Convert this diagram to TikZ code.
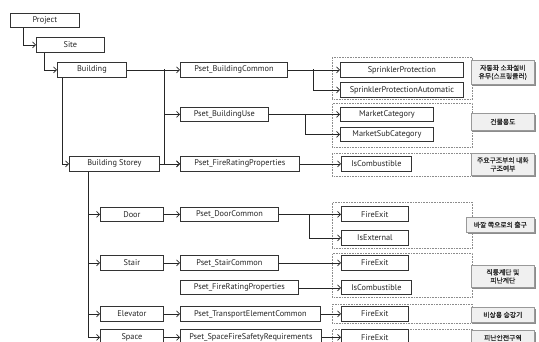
\documentclass[tikz,border=0pt]{standalone}
\usepackage{fontspec}
\setmainfont{PT Sans}
\newfontfamily\kr[FakeBold=0.6]{Noto Sans CJK KR}
\usetikzlibrary{arrows.meta,shadows}
\begin{document}
\begin{tikzpicture}[x=1pt,y=-1pt,
  box/.style={draw=black!80, line width=0.8pt, fill=white, anchor=north west, inner sep=0pt,
     font=\fontsize{8.3}{9}\selectfont, text=black!85},
  grp/.style={draw=black!45, densely dotted, line width=0.6pt, anchor=north west, inner sep=0pt},
  note/.style={draw=black!40, line width=0.7pt, fill=black!6, anchor=north west, inner sep=0pt,
     align=center, font=\kr\fontsize{6.8}{8.2}\selectfont, text=black!85,
     drop shadow={shadow xshift=1.5pt, shadow yshift=-1.5pt, fill=black!45, opacity=1}},
  arr/.style={draw=black!85, line width=0.7pt, -{Straight Barb[length=3pt,width=6pt]}}
]
\useasboundingbox (0,0) rectangle (539,342);
\clip (0,0) rectangle (539,342);

% groups
\node[grp, minimum width=140pt, minimum height=42pt] (g1) at (332,57) {};
\node[grp, minimum width=140pt, minimum height=44pt] (g2) at (332,103) {};
\node[grp, minimum width=140pt, minimum height=23pt] (g3) at (332,153) {};
\node[grp, minimum width=140pt, minimum height=46pt] (g4) at (332,202) {};
\node[grp, minimum width=140pt, minimum height=44pt] (g5) at (332,253) {};
\node[grp, minimum width=140pt, minimum height=19pt] (g6) at (332,304) {};
\node[grp, minimum width=140pt, minimum height=30pt] (g7) at (332,329) {};

% hierarchy
\node[box, minimum width=69pt, minimum height=14pt] (proj) at (10,13) {Project};
\node[box, minimum width=68pt, minimum height=15pt] (site) at (36,37) {Site};
\node[box, minimum width=69pt, minimum height=15pt] (bldg) at (57,62) {Building};
\node[box, minimum width=90pt, minimum height=15pt] (bs) at (69,156) {Building Storey};
\node[box, minimum width=63pt, minimum height=14pt] (door) at (100,207) {Door};
\node[box, minimum width=63pt, minimum height=15pt] (stair) at (100,255) {Stair};
\node[box, minimum width=63pt, minimum height=15pt] (elev) at (100,306) {Elevator};
\node[box, minimum width=63pt, minimum height=16pt] (space) at (100,329) {Space};

% psets
\node[box, minimum width=107pt, minimum height=15pt] (pbc) at (180,62) {Pset\_BuildingCommon};
\node[box, minimum width=88pt, minimum height=14pt] (pbu) at (180,107) {Pset\_BuildingUse};
\node[box, minimum width=119pt, minimum height=15pt] (pfr1) at (180,156) {Pset\_FireRatingProperties};
\node[box, minimum width=98pt, minimum height=14pt] (pdc) at (180,207) {Pset\_DoorCommon};
\node[box, minimum width=98pt, minimum height=15pt] (psc) at (180,255) {Pset\_StairCommon};
\node[box, minimum width=118pt, minimum height=14pt] (pfr2) at (180,280.5) {Pset\_FireRatingProperties};
\node[box, minimum width=140pt, minimum height=15pt] (ptec) at (180,306) {Pset\_TransportElementCommon};
\node[box, minimum width=141pt, minimum height=16pt] (psfsr) at (180,329) {Pset\_SpaceFireSafetyRequirements};

% properties
\node[box, minimum width=123pt, minimum height=15pt] (sp) at (340,62) {SprinklerProtection};
\node[box, minimum width=123pt, minimum height=15pt] (spa) at (340,82) {SprinklerProtectionAutomatic};
\node[box, minimum width=93pt, minimum height=14pt] (mc) at (340,107) {MarketCategory};
\node[box, minimum width=93pt, minimum height=14pt] (msc) at (340,127) {MarketSubCategory};
\node[box, minimum width=70pt, minimum height=15pt] (ic1) at (341,156) {IsCombustible};
\node[box, minimum width=67pt, minimum height=15pt] (fe1) at (341,206.5) {FireExit};
\node[box, minimum width=67pt, minimum height=15pt] (ie) at (341,230) {IsExternal};
\node[box, minimum width=67pt, minimum height=15pt] (fe2) at (341,255) {FireExit};
\node[box, minimum width=70pt, minimum height=14pt] (ic2) at (341,280.5) {IsCombustible};
\node[box, minimum width=67pt, minimum height=15pt] (fe3) at (341,306) {FireExit};
\node[box, minimum width=67pt, minimum height=16pt] (fe4) at (341,329) {FireExit};

% notes
\node[note, minimum width=63pt, minimum height=24pt] (n1) at (471,60) {자동화 소화설비\\유무(스프링클러)};
\node[note, minimum width=63pt, minimum height=17pt] (n2) at (471,113) {건물용도};
\node[note, minimum width=63pt, minimum height=22pt] (n3) at (471,153) {주요구조부의 내화\\구조여부};
\node[note, minimum width=68pt, minimum height=15pt] (n4) at (466,217) {바깥 쪽으로의 출구};
\node[note, minimum width=63pt, minimum height=22pt] (n5) at (471,265) {직통계단 및\\피난계단};
\node[note, minimum width=63pt, minimum height=15pt] (n6) at (471,307) {비상용 승강기};
\node[note, minimum width=63pt, minimum height=15pt] (n7) at (471,330) {피난안전구역};

% hierarchy connectors
\draw[arr] ([xshift=13pt]proj.south west) |- (site.west);
\draw[arr] ([xshift=8pt]site.south west) |- (bldg.west);
\draw[arr] ([xshift=5pt]bldg.south west) |- (bs.west);
\draw[arr] ([xshift=19pt]bs.south west) |- (door.west);
\draw[arr] ([xshift=19pt]bs.south west) |- (stair.west);
\draw[arr] ([xshift=19pt]bs.south west) |- (elev.west);
\draw[arr] ([xshift=19pt]bs.south west) |- (space.west);

% to psets
\draw[arr] (bldg.east) -- (pbc.west);
\coordinate (j1) at (164,69.5);
\draw[arr] (j1) |- (pbu.west);
\draw[arr] (j1) |- (pfr1.west);
\draw[arr] (bs.east) -- (pfr1.west);
\draw[arr] (door.east) -- (pdc.west);
\draw[arr] (stair.east) -- (psc.west);
\draw[arr] (elev.east) -- (ptec.west);
\draw[arr] (space.east) -- (psfsr.west);

% to properties
\draw[arr] (pbc.east) -- (sp.west);
\coordinate (j2) at (313,69.5);
\draw[arr] (j2) |- (spa.west);
\draw[arr] (pbu.east) -- (mc.west);
\coordinate (j3) at (305,114);
\draw[arr] (j3) |- (msc.west);
\draw[arr] (pfr1.east) -- (ic1.west);
\draw[arr] (pdc.east) -- (fe1.west);
\coordinate (j4) at (309,214);
\draw[arr] (j4) |- (ie.west);
\draw[arr] (psc.east) -- (fe2.west);
\draw[arr] (pfr2.east) -- (ic2.west);
\draw[arr] (ptec.east) -- (fe3.west);
\draw[arr] (psfsr.east) -- (fe4.west);
\end{tikzpicture}
\end{document}
